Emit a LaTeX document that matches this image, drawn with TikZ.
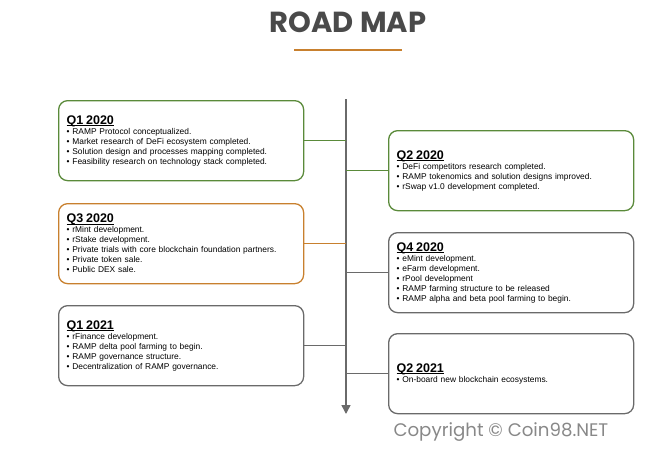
\documentclass[tikz,border=0pt]{standalone}
\usepackage{fontspec}
\setmainfont{Liberation Sans}
\newfontfamily\titlefont{Poppins}
\usetikzlibrary{positioning, calc, arrows.meta}
\definecolor{qgreen}{HTML}{5A8A3A}
\definecolor{qorange}{HTML}{C8802E}
\definecolor{qgray}{HTML}{6A6A6A}
\definecolor{titlegray}{HTML}{4A4A4A}
\tikzset{
  quarter/.style = {draw=#1, line width=1.3pt, rounded corners=9pt, minimum width=245pt,
    minimum height=80pt, text width=229pt, align=left, inner sep=0pt,
    font=\fontsize{8.4}{10}\selectfont},
  link/.style = {line width=1.2pt, draw=#1},
}
\newsavebox{\qbox}
\newcommand{\qhead}[1]{\leavevmode\sbox{\qbox}{\fontsize{12.5}{13}\selectfont\bfseries #1}%
  \rlap{\raisebox{-1.6pt}{\rule{\wd\qbox}{0.8pt}}}\usebox{\qbox}\\}
\newcommand{\qitem}{\textbullet\ }
\begin{document}
\begin{tikzpicture}[x=1pt, y=-1pt]
\useasboundingbox (0,0) rectangle (648,450);
\node[font=\titlefont\bfseries\fontsize{29}{31}\selectfont, text=titlegray] (title) at (348,22) {ROAD MAP};
\draw[line width=1.5pt, draw=qorange] (294,50) -- (402,50);
% timeline axis
\coordinate (top) at (346,99);
\coordinate (bottom) at (346,414);
\draw[line width=1.5pt, draw=qgray, -{Triangle[length=9pt,width=9pt]}] (top) -- (bottom);
% quarters
\node[quarter=qgreen, anchor=north west] (q1a) at (58,100) {\qhead{Q1 2020}
  \qitem RAMP Protocol conceptualized.\\
  \qitem Market research of DeFi ecosystem completed.\\
  \qitem Solution design and processes mapping completed.\\
  \qitem Feasibility research on technology stack completed.};
\node[quarter=qgreen, anchor=north west] (q2a) at (388,130) {\qhead{Q2 2020}
  \qitem DeFi competitors research completed.\\
  \qitem RAMP tokenomics and solution designs improved.\\
  \qitem rSwap v1.0 development completed.};
\node[quarter=qorange, anchor=north west] (q3a) at (58,203) {\qhead{Q3 2020}
  \qitem rMint development.\\
  \qitem rStake development.\\
  \qitem Private trials with core blockchain foundation partners.\\
  \qitem Private token sale.\\
  \qitem Public DEX sale.};
\node[quarter=qgray, anchor=north west] (q4a) at (388,232) {\qhead{Q4 2020}
  \qitem eMint development.\\
  \qitem eFarm development.\\
  \qitem rPool development\\
  \qitem RAMP farming structure to be released\\
  \qitem RAMP alpha and beta pool farming to begin.};
\node[quarter=qgray, anchor=north west] (q1b) at (58,305) {\qhead{Q1 2021}
  \qitem rFinance development.\\
  \qitem RAMP delta pool farming to begin.\\
  \qitem RAMP governance structure.\\
  \qitem Decentralization of RAMP governance.};
\node[quarter=qgray, anchor=north west] (q2b) at (388,333) {\qhead{Q2 2021}
  \qitem On-board new blockchain ecosystems.\\[20pt]};
% links to the axis
\draw[link=qgreen] (q1a.east) -- (q1a.east -| top);
\draw[link=qgreen] (q2a.west) -- (q2a.west -| top);
\draw[link=qorange] (q3a.east) -- (q3a.east -| top);
\draw[link=qgray] (q4a.west) -- (q4a.west -| top);
\draw[link=qgray] (q1b.east) -- (q1b.east -| top);
\draw[link=qgray] (q2b.west) -- (q2b.west -| top);
\node[font=\titlefont\fontsize{18.2}{20}\selectfont, text=qgray!80, anchor=west] (copy) at (390,432) {Copyright © Coin98.NET};
\end{tikzpicture}
\end{document}
